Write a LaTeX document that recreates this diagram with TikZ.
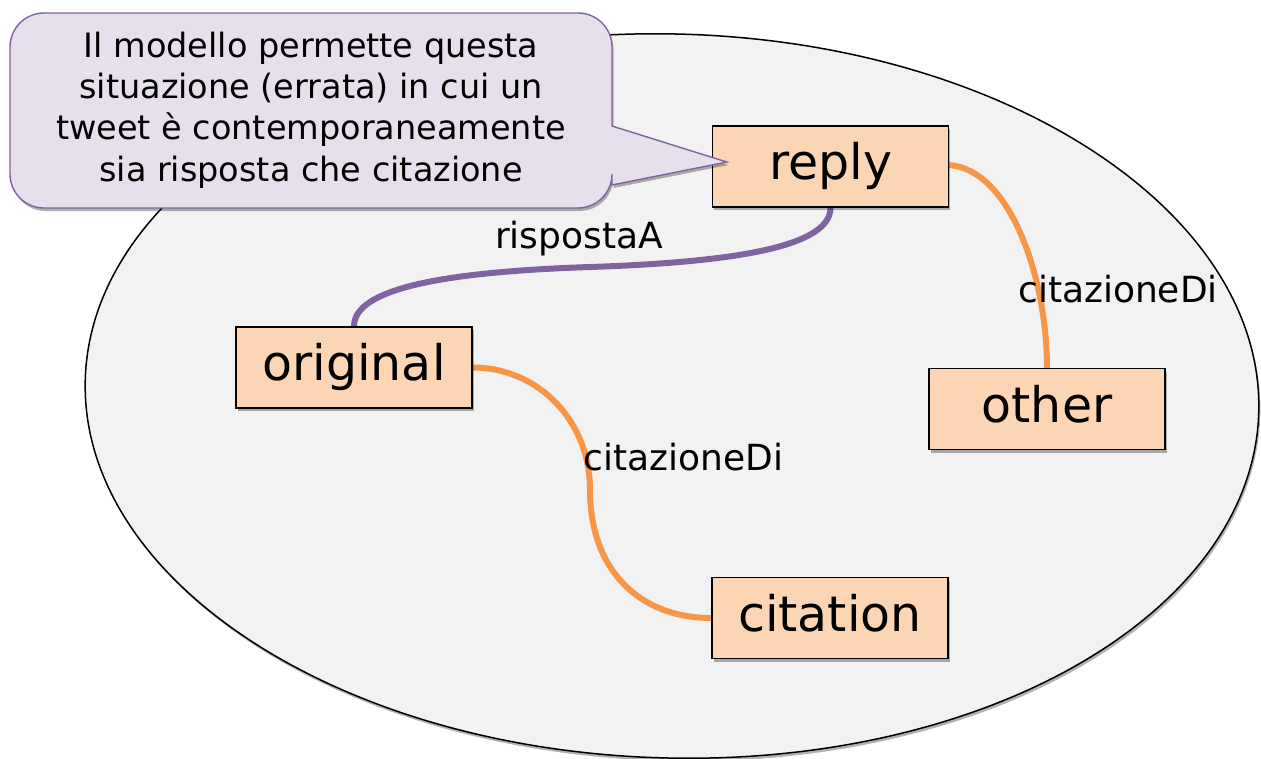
\documentclass[tikz,border=0pt]{standalone}
\usepackage{fontspec}
\setmainfont{DejaVu Sans}
\usetikzlibrary{shadows,calc}
\definecolor{tweetfill}{HTML}{FCD5B4}
\definecolor{setfill}{HTML}{F2F2F2}
\definecolor{notefill}{HTML}{E5E0EC}
\definecolor{noteline}{HTML}{8064A2}
\definecolor{replyline}{HTML}{8064A2}
\definecolor{quoteline}{HTML}{F79646}
\pgfdeclarelayer{setlayer}
\pgfdeclarelayer{edgelayer}
\pgfsetlayers{setlayer,edgelayer,main}
\begin{document}
\begin{tikzpicture}[x=1pt,y=-1pt,
  softshadow/.style={drop shadow={shadow xshift=1.5pt, shadow yshift=-3pt, opacity=0.3, fill=black}},
  tweet/.style={draw=black, line width=1.4pt, fill=tweetfill, minimum width=236pt,
    minimum height=81pt, inner sep=0pt, text height=37pt, text depth=11pt,
    font=\fontsize{49}{58}\selectfont, softshadow},
  rel/.style={line width=6pt},
  lbl/.style={font=\fontsize{36}{43}\selectfont, inner sep=0pt, anchor=base},
]
\useasboundingbox (0,0) rectangle (1261,758);

% the set of tweets
\begin{pgfonlayer}{setlayer}
\path[draw=black, line width=1.5pt, fill=setfill, softshadow,
  rotate around={-1.6:(672,396)}] (672,396) ellipse [x radius=587, y radius=362];
\end{pgfonlayer}

% tweets
\node[tweet] (reply)    at (830.5,166.5) {reply};
\node[tweet] (original) at (354,367.5)   {original};
\node[tweet] (other)    at (1047,409)    {other};
\node[tweet] (citation) at (830,618)     {citation};

% relations, beneath the boxes
\coordinate (rmid) at (590,267);
\coordinate (cmid) at (590,490);
\begin{pgfonlayer}{edgelayer}
\path[draw=replyline, rel]
  (reply.south) .. controls +(0,38) and +(150,-5) .. (rmid)
                .. controls +(-150,5) and +(0,-37) .. (original.north);
\path[draw=quoteline, rel]
  ($(reply.east)+(0,-1.5)$) .. controls +(62,5) and +(0,-88) .. (other.north);
\path[draw=quoteline, rel]
  (original.east) .. controls +(65,0) and +(0,-70) .. (cmid)
                  .. controls +(0,80) and +(-72,0) .. (citation.west);
\end{pgfonlayer}

% relation labels
\node[lbl] (lreply)  at (579,248)    {rispostaA};
\node[lbl] (lquote1) at (1118,302)   {citazioneDi};
\node[lbl] (lquote2) at (683.5,470)  {citazioneDi};

% speech balloon
\coordinate (tip) at ($(reply.west)+(15,-4.5)$);
\path[draw=noteline, line width=1.4pt, fill=notefill, softshadow]
  (612,126) [rounded corners=34pt] -- (612,13) -- (10,13) -- (10,208) -- (612,208)
  [sharp corners] -- (612,185) -- (tip) -- cycle;
\node[align=center, inner sep=0pt, font=\fontsize{33.5}{41.3}\selectfont] (note) at (311,110)
  {Il modello permette questa\\situazione (errata) in cui un\\tweet è contemporaneamente\\sia risposta che citazione};
\end{tikzpicture}
\end{document}
